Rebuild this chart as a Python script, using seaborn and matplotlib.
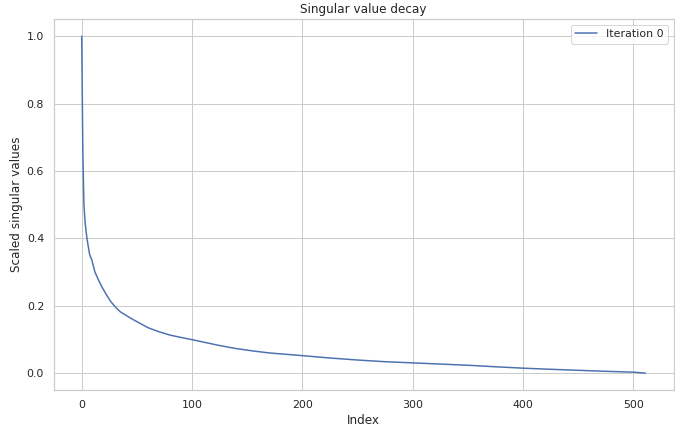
import matplotlib
matplotlib.use("Agg")
import matplotlib.pyplot as plt
import seaborn as sns
import pandas as pd

# Values (index -> scaled singular value)
index = [0, 1, 2, 3, 4, 5, 6, 7, 8, 9, 10, 12, 15, 18, 22, 26, 30, 35, 40, 45,
         50, 55, 60, 70, 80, 90, 100, 112, 125, 140, 155, 170, 185, 200, 225,
         250, 275, 300, 325, 350, 375, 400, 425, 450, 475, 500, 511]
values = [1.0, 0.66, 0.50, 0.45, 0.42, 0.395, 0.375, 0.355, 0.345, 0.338, 0.325,
          0.300, 0.278, 0.258, 0.235, 0.214, 0.198, 0.182, 0.172, 0.162,
          0.153, 0.144, 0.135, 0.123, 0.113, 0.106, 0.0995, 0.091, 0.082, 0.073,
          0.066, 0.060, 0.056, 0.052, 0.045, 0.039, 0.034, 0.0305, 0.027, 0.0235,
          0.019, 0.0148, 0.0115, 0.0085, 0.0055, 0.003, 0.0]
series_label = "Iteration 0"

sns.set_theme(style="whitegrid", context="notebook")

df = pd.DataFrame({"Index": index, "Scaled singular values": values})

fig = plt.figure(figsize=(9.375, 6), dpi=72)
ax = fig.add_axes([0.0793, 0.0972, 0.9185, 0.858])
sns.lineplot(data=df, x="Index", y="Scaled singular values", ax=ax,
             label=series_label, linewidth=1.5)
ax.set_title("Singular value decay")
ax.set_xlabel("Index")
ax.set_ylabel("Scaled singular values")
ax.legend(loc="upper right")

fig.savefig("out.png", dpi=72)
